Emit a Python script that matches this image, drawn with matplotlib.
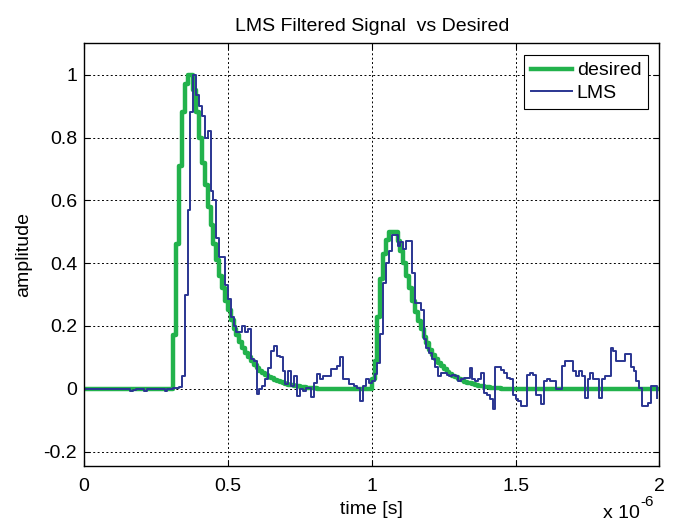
import numpy as np
import matplotlib
matplotlib.use('Agg')
import matplotlib.pyplot as plt

plt.rcParams['font.family'] = ['Liberation Sans', 'DejaVu Sans']

# sample period of both signals [s]
dt = 1e-8

# desired signal: two pulses, zero elsewhere
desired_pulse1 = [0.17, 0.46, 0.71, 0.88, 0.97, 1.00, 1.00, 0.95, 0.88, 0.80,
                  0.72, 0.65, 0.58, 0.52, 0.46, 0.41, 0.36, 0.32, 0.28, 0.25,
                  0.22, 0.19, 0.17, 0.15, 0.13, 0.115, 0.10, 0.088, 0.077, 0.067,
                  0.058, 0.05, 0.044, 0.038, 0.033, 0.028, 0.024, 0.021, 0.018, 0.015,
                  0.013, 0.011, 0.009, 0.008, 0.006, 0.005, 0.004, 0.003, 0.002, 0.001]
desired_pulse2 = [0.03, 0.09, 0.23, 0.35, 0.43, 0.475, 0.50, 0.50, 0.50, 0.47,
                  0.44, 0.40, 0.36, 0.32, 0.28, 0.245, 0.215, 0.19, 0.165, 0.147,
                  0.125, 0.107, 0.095, 0.083, 0.072, 0.063, 0.055, 0.048, 0.042, 0.036,
                  0.031, 0.027, 0.023, 0.02, 0.017, 0.014, 0.012, 0.01, 0.008, 0.006,
                  0.005, 0.004, 0.003, 0.002, 0.001]
desired = [0.0] * 31 + desired_pulse1 + [0.0] * 19 + desired_pulse2 + [0.0] * 55

# LMS filter output
lms = [
    -0.002, -0.002, -0.002, -0.002, -0.002, -0.002, -0.002, -0.002, -0.002, -0.002,
    -0.002, -0.002, -0.002, -0.002, -0.002, -0.002, -0.006, -0.004, -0.002, -0.002,
    -0.002, -0.006, -0.002, -0.002, -0.002, -0.002, -0.002, -0.002, -0.006, -0.002,
    -0.002, 0.004, 0.004, 0.006, 0.04, 0.30, 0.57, 0.88, 1.0, 0.934,
    0.90, 0.87, 0.80, 0.822, 0.63, 0.60, 0.48, 0.42, 0.42, 0.33,
    0.285, 0.23, 0.20, 0.18, 0.18, 0.20, 0.18, 0.19, 0.094, 0.09,
    -0.018, 0.0, 0.008, 0.03, 0.067, 0.12, 0.136, 0.104, 0.10, 0.056,
    0.014, 0.056, 0.01, 0.04, -0.024, 0.0, -0.008, 0.003, 0.003, -0.025,
    0.019, 0.046, 0.03, 0.04, 0.04, 0.04, 0.062, 0.062, 0.072, 0.10,
    0.03, 0.03, 0.014, 0.014, 0.01, 0.003, -0.04, 0.01, 0.03, 0.02,
    0.024, 0.046, 0.083, 0.173, 0.338, 0.40, 0.44, 0.49, 0.49, 0.455,
    0.466, 0.445, 0.47, 0.47, 0.37, 0.274, 0.274, 0.25, 0.157, 0.131,
    0.115, 0.094, 0.07, 0.04, 0.05, 0.05, 0.045, 0.04, 0.045, 0.04,
    0.025, 0.03, 0.035, 0.035, 0.067, 0.03, 0.025, 0.03, 0.05, -0.013,
    -0.02, -0.034, -0.065, 0.07, 0.07, 0.06, 0.05, 0.035, 0.03, -0.02,
    -0.034, -0.04, -0.055, -0.055, 0.045, 0.05, 0.045, -0.02, -0.02, -0.05,
    0.024, 0.03, 0.025, 0.025, 0.0, 0.0, 0.072, 0.088, 0.088, 0.088,
    0.056, 0.04, 0.056, 0.04, -0.03, 0.03, 0.05, 0.03, 0.03, -0.03,
    0.03, 0.04, 0.04, 0.13, 0.12, 0.09, 0.09, 0.09, 0.11, 0.11,
    0.07, 0.056, 0.024, 0.003, -0.055, -0.055, -0.045, 0.01, 0.01, -0.03,
]

xticks = [0, 0.5e-6, 1e-6, 1.5e-6, 2e-6]
xtick_labels = ['0', '0.5', '1', '1.5', '2']
yticks = [-0.2, 0, 0.2, 0.4, 0.6, 0.8, 1]
ytick_labels = ['-0.2', '0', '0.2', '0.4', '0.6', '0.8', '1']

t = np.arange(len(desired)) * dt

fig = plt.figure(figsize=(6.75, 5.22), dpi=100)
ax = fig.add_axes([0.1244, 0.1078, 0.8526, 0.8092])

ax.step(t, desired, where='post', color='#22b24c', lw=3.2, label='desired')
ax.step(t, lms, where='post', color='#2a3592', lw=1.4, label='LMS')

ax.set_xlim(0, 2e-6)
ax.set_ylim(-0.245, 1.1)
ax.set_xticks(xticks)
ax.set_xticklabels(xtick_labels)
ax.set_yticks(yticks)
ax.set_yticklabels(ytick_labels)

ax.grid(True, color='k', linestyle=(0, (2, 2.5)), lw=0.7)
ax.tick_params(direction='in', top=True, right=True, length=4, labelsize=14)
ax.tick_params(axis='y', pad=5)
ax.tick_params(axis='x', pad=9)
for s in ax.spines.values():
    s.set_linewidth(1.0)

ax.set_title('LMS Filtered Signal  vs Desired', fontsize=14, pad=9)
ax.set_xlabel('time [s]', fontsize=14, labelpad=4)
ax.set_ylabel('amplitude', fontsize=14, labelpad=8)

# scale factor of the time axis, bottom right
ax.text(0.966, -0.113, 'x 10', transform=ax.transAxes, ha='right', va='center', fontsize=14)
ax.text(0.966, -0.086, '-6', transform=ax.transAxes, ha='left', va='center', fontsize=11)

leg = ax.legend(loc='upper right', bbox_to_anchor=(0.9805, 0.9723), borderaxespad=0,
                fancybox=False, framealpha=1, edgecolor='k', fontsize=14,
                handlelength=2.1, handletextpad=0.25, labelspacing=0.25, borderpad=0.35)
leg.get_frame().set_linewidth(0.8)

fig.savefig('out.png', dpi=100)
